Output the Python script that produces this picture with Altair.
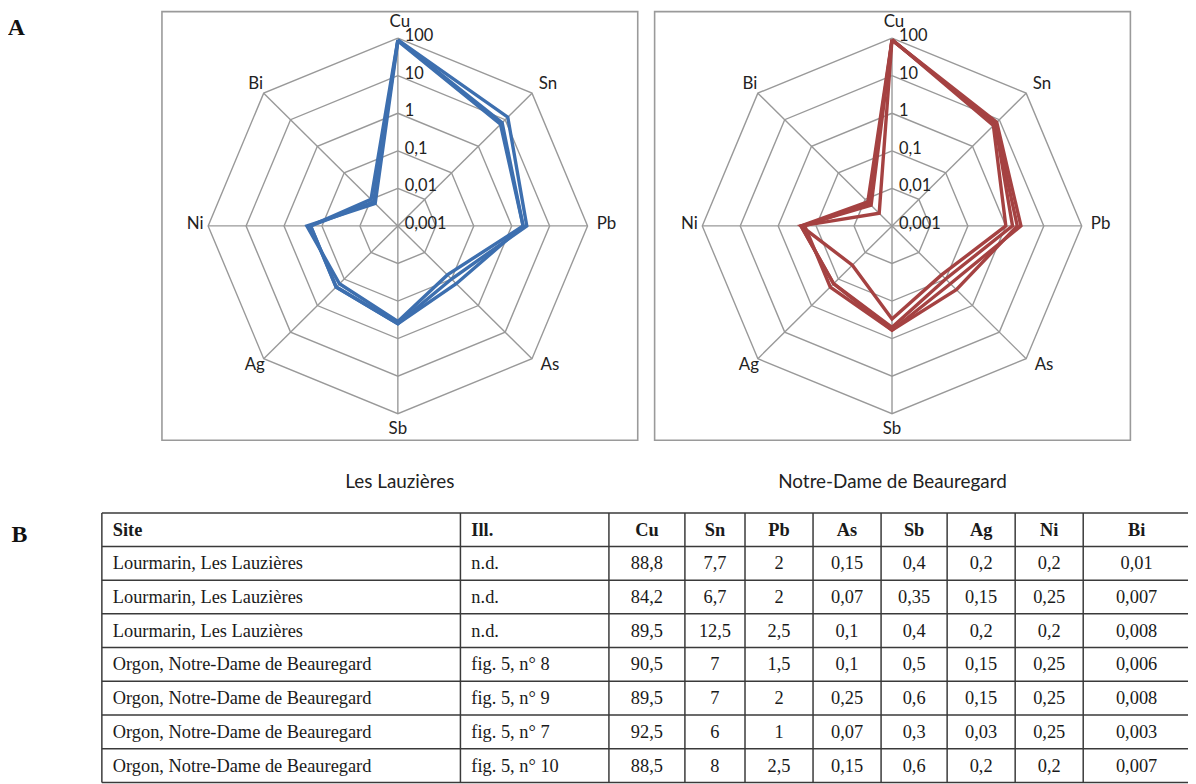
import altair as alt
import pandas as pd

# ---------------- data ----------------
elements = ["Cu", "Sn", "Pb", "As", "Sb", "Ag", "Ni", "Bi"]
sites = ["Lourmarin, Les Lauzières"] * 3 + ["Orgon, Notre-Dame de Beauregard"] * 4
ills = ["n.d.", "n.d.", "n.d.", "fig. 5, n° 8", "fig. 5, n° 9", "fig. 5, n° 7", "fig. 5, n° 10"]
groups = ["Les Lauzières"] * 3 + ["Notre-Dame de Beauregard"] * 4
cu = [88.8, 84.2, 89.5, 90.5, 89.5, 92.5, 88.5]
sn = [7.7, 6.7, 12.5, 7, 7, 6, 8]
pb = [2, 2, 2.5, 1.5, 2, 1, 2.5]
as_ = [0.15, 0.07, 0.1, 0.1, 0.25, 0.07, 0.15]
sb = [0.4, 0.35, 0.4, 0.5, 0.6, 0.3, 0.6]
ag = [0.2, 0.15, 0.2, 0.15, 0.15, 0.03, 0.2]
ni = [0.2, 0.25, 0.2, 0.25, 0.25, 0.25, 0.2]
bi = [0.01, 0.007, 0.008, 0.006, 0.008, 0.003, 0.007]
ring_values = [0.01, 0.1, 1, 10, 100]
tick_values = [0.001, 0.01, 0.1, 1, 10, 100]
tick_labels = ["0,001", "0,01", "0,1", "1", "10", "100"]
panel_titles = ["Les Lauzières", "Notre-Dame de Beauregard"]
header = ["Site", "Ill."] + elements
columns = {"Cu": cu, "Sn": sn, "Pb": pb, "As": as_, "Sb": sb, "Ag": ag, "Ni": ni, "Bi": bi}

# ---------------- layout / style ----------------
XS = alt.Scale(domain=[0, 1196], range=[-8, 1188])
YS = alt.Scale(domain=[0, 784], range=[0, 776])
DEC = 38.2          # pixels per decade on the radar
BASE = 3            # log10(0.001) = -3 at the centre
PANEL = {
    "Les Lauzières": dict(cx=400.5, cy=219, box=(163, 1, 642, 437), color="#3D6FAF"),
    "Notre-Dame de Beauregard": dict(cx=898, cy=219, box=(659, 1, 1138, 437), color="#A54242"),
}
LABEL_OFF = {"Cu": (2, -16.5), "Sn": (16, -9), "Pb": (19, -2), "As": (18, 6),
             "Sb": (0, 16), "Ag": (-9, 6), "Ni": (-13, -2), "Bi": (-8, -9)}
GRID = "#999999"
SANS = "Lato"
SERIF = "Liberation Serif"
TXT = "#222222"

T_TOP, T_HDR, T_ROW, T_LEFT, T_RIGHT = 511, 34, 34.3, 102.5, 1200
COL_EDGES = [102.5, 463.5, 613, 689.5, 750, 818.5, 887, 953.5, 1022, 1090.5, 1198]


def X(f):
    return alt.X(f, type="quantitative", scale=XS, axis=None)


def Y(f):
    return alt.Y(f, type="quantitative", scale=YS, axis=None)


def polar(ch, cx, cy):
    return (
        ch.transform_calculate(r=f"(log(datum.value)/LN10 + {BASE}) * {DEC}",
                               a="datum.k * PI / 4")
        .transform_calculate(px=f"{cx} + datum.r * sin(datum.a)",
                             py=f"{cy} - datum.r * cos(datum.a)")
    )


layers = []

for title in panel_titles:
    p = PANEL[title]
    cx, cy = p["cx"], p["cy"]
    x0, y0, x1, y1 = p["box"]
    # frame
    layers.append(
        alt.Chart(pd.DataFrame([{"x0": x0, "y0": y0, "x1": x1, "y1": y1}]))
        .mark_rect(fill=None, stroke="#9a9a9a", strokeWidth=1.6)
        .encode(x=X("x0"), x2="x1", y=Y("y0"), y2="y1")
    )
    # rings
    ring_rows = [{"ring": v, "k": k, "value": v} for v in ring_values for k in range(9)]
    ch = polar(alt.Chart(pd.DataFrame(ring_rows)), cx, cy)
    layers.append(
        ch.mark_line(color=GRID, strokeWidth=1.4)
        .encode(x=X("px"), y=Y("py"), detail="ring:N", order="k:Q")
    )
    # spokes
    spoke = pd.DataFrame([{"k": k, "value": max(ring_values)} for k in range(8)])
    ch = polar(alt.Chart(spoke), cx, cy).transform_calculate(ox=f"{cx}", oy=f"{cy}")
    layers.append(
        ch.mark_rule(color=GRID, strokeWidth=1.4)
        .encode(x=X("ox"), y=Y("oy"), x2="px", y2="py")
    )
    # tick labels
    tk = pd.DataFrame({"value": tick_values, "label": tick_labels, "k": 0})
    ch = polar(alt.Chart(tk), cx, cy).transform_calculate(tx="datum.px + 7", ty="datum.py - 2")
    layers.append(
        ch.mark_text(align="left", baseline="middle", font=SANS, fontSize=16.5, color=TXT)
        .encode(x=X("tx"), y=Y("ty"), text="label:N")
    )
    # series polygons
    rows = []
    for i, g in enumerate(groups):
        if g != title:
            continue
        for k in range(9):
            e = elements[k % 8]
            rows.append({"sample": i, "k": k, "element": e, "value": columns[e][i]})
    ch = polar(alt.Chart(pd.DataFrame(rows)), cx, cy)
    layers.append(
        ch.mark_line(color=p["color"], strokeWidth=3.4, strokeJoin="miter")
        .encode(x=X("px"), y=Y("py"), detail="sample:N", order="k:Q")
    )
    # category labels
    lab = pd.DataFrame([{"k": k, "element": e, "value": max(ring_values),
                         "dx": LABEL_OFF[e][0], "dy": LABEL_OFF[e][1]}
                        for k, e in enumerate(elements)])
    ch = polar(alt.Chart(lab), cx, cy).transform_calculate(
        lx="datum.px + datum.dx", ly="datum.py + datum.dy")
    layers.append(
        ch.mark_text(align="center", baseline="middle", font=SANS, fontSize=17, color=TXT)
        .encode(x=X("lx"), y=Y("ly"), text="element:N")
    )
    # panel title
    layers.append(
        alt.Chart(pd.DataFrame([{"t": title, "x": (x0 + x1) / 2, "y": 480}]))
        .mark_text(align="center", baseline="middle", font=SANS, fontSize=19, color=TXT)
        .encode(x=X("x"), y=Y("y"), text="t:N")
    )

# section letters
layers.append(
    alt.Chart(pd.DataFrame([{"t": "A", "x": 16.5, "y": 18}, {"t": "B", "x": 19.5, "y": 533}]))
    .mark_text(align="center", baseline="middle", font=SERIF, fontSize=24, fontWeight="bold", color="#111")
    .encode(x=X("x"), y=Y("y"), text="t:N")
)

# ---------------- table ----------------
n_rows = len(sites)
row_edges = [T_TOP, T_TOP + T_HDR] + [T_TOP + T_HDR + T_ROW * (i + 1) for i in range(n_rows)]
hl = pd.DataFrame({"y": row_edges, "x0": T_LEFT, "x1": T_RIGHT})
layers.append(
    alt.Chart(hl).mark_rule(color="#3a3a3a", strokeWidth=1.5)
    .encode(x=X("x0"), x2="x1", y=Y("y"))
)
vl = pd.DataFrame({"x": COL_EDGES[:-1], "y0": T_TOP, "y1": row_edges[-1]})
layers.append(
    alt.Chart(vl).mark_rule(color="#3a3a3a", strokeWidth=1.5)
    .encode(x=X("x"), y=Y("y0"), y2="y1")
)


def fmt(v):
    return f"{v:g}".replace(".", ",")


cells = []
for c, h in enumerate(header):
    cells.append({"row": 0, "col": c, "text": h, "bold": True})
for i in range(n_rows):
    vals = [sites[i], ills[i]] + [fmt(columns[e][i]) for e in elements]
    for c, v in enumerate(vals):
        cells.append({"row": i + 1, "col": c, "text": v, "bold": False})
cdf = pd.DataFrame(cells)
cdf["y"] = [T_TOP + T_HDR / 2 if r == 0 else T_TOP + T_HDR + (r - 0.5) * T_ROW for r in cdf["row"]]
cdf["xl"] = [COL_EDGES[c] + 11 for c in cdf["col"]]
cdf["xc"] = [(COL_EDGES[c] + COL_EDGES[c + 1]) / 2 for c in cdf["col"]]

for bold in (True, False):
    left = cdf[(cdf["col"] < 2) & (cdf["bold"] == bold)]
    mid = cdf[(cdf["col"] >= 2) & (cdf["bold"] == bold)]
    fw = "bold" if bold else "normal"
    layers.append(
        alt.Chart(left).mark_text(align="left", baseline="middle", font=SERIF, fontSize=18.5,
                                  fontWeight=fw, color="#1a1a1a")
        .encode(x=X("xl"), y=Y("y"), text="text:N")
    )
    layers.append(
        alt.Chart(mid).mark_text(align="center", baseline="middle", font=SERIF, fontSize=18.5,
                                 fontWeight=fw, color="#1a1a1a")
        .encode(x=X("xc"), y=Y("y"), text="text:N")
    )

chart = (
    alt.layer(*layers)
    .properties(width=1188, height=776, autosize=alt.AutoSizeParams(type="none"), padding=0,
                background="white")
    .configure_view(stroke=None)
)

chart.save("out.html", embed_options={"renderer": "svg", "actions": False})
